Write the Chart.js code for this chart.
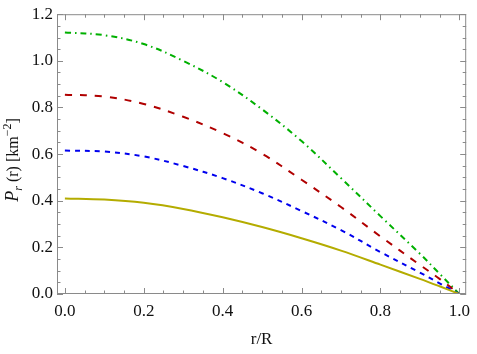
<!DOCTYPE html>
<html>
<head>
<meta charset="utf-8">
<script src="https://cdn.jsdelivr.net/npm/chart.js@4.4.1/dist/chart.umd.min.js"></script>
<style>
  html, body { margin: 0; padding: 0; background: #fff; }
  #wrap { width: 477px; height: 354px; }
</style>
</head>
<body>
<div id="wrap"><canvas id="grafica" width="477" height="354"></canvas></div>
<script>
const rVals = [0, 0.1, 0.2, 0.3, 0.4, 0.5, 0.6, 0.7, 0.8, 0.9, 0.95, 1.0];
const verde = [1.122, 1.110, 1.072, 1.000, 0.909, 0.792, 0.656, 0.497, 0.334, 0.173, 0.087, 0];
const rojo = [0.855, 0.847, 0.815, 0.760, 0.690, 0.602, 0.490, 0.373, 0.247, 0.125, 0.065, 0];
const azul = [0.615, 0.611, 0.590, 0.549, 0.497, 0.432, 0.356, 0.274, 0.180, 0.092, 0.046, 0];
const amarillo = [0.410, 0.405, 0.391, 0.365, 0.329, 0.287, 0.239, 0.186, 0.126, 0.065, 0.033, 0];

const xTicks = [0, 0.2, 0.4, 0.6, 0.8, 1.0];
const yTicks = [0, 0.2, 0.4, 0.6, 0.8, 1.0, 1.2];

const FUENTE = "'Liberation Serif', 'Times New Roman', serif";

function serie(vals, color, dash) {
  return {
    data: vals.map((v, i) => ({ x: rVals[i], y: v })),
    borderColor: color,
    borderWidth: 2,
    borderDash: dash,
    pointRadius: 0,
    fill: false,
    tension: 0.35
  };
}

// frame with inward ticks on all four sides, and the y title
const marco = {
  id: "marco",
  afterDraw(chart) {
    const ctx = chart.ctx;
    const a = chart.chartArea;
    const sx = chart.scales.x;
    const sy = chart.scales.y;
    ctx.save();
    ctx.strokeStyle = "#8a8a8a";
    ctx.lineWidth = 1;
    ctx.strokeRect(a.left + 0.5, a.top + 0.5, a.right - a.left - 1, a.bottom - a.top - 1);

    ctx.beginPath();
    for (let k = 0; k <= 20; k++) {
      const v = k * 0.05;
      const len = k % 4 === 0 ? 6 : 3.5;
      const px = Math.round(sx.getPixelForValue(v)) + 0.5;
      ctx.moveTo(px, a.bottom); ctx.lineTo(px, a.bottom - len);
      ctx.moveTo(px, a.top); ctx.lineTo(px, a.top + len);
    }
    for (let k = 0; k <= 24; k++) {
      const v = k * 0.05;
      const len = k % 4 === 0 ? 6 : 3.5;
      const py = Math.round(sy.getPixelForValue(v)) + 0.5;
      ctx.moveTo(a.left, py); ctx.lineTo(a.left + len, py);
      ctx.moveTo(a.right, py); ctx.lineTo(a.right - len, py);
    }
    ctx.stroke();

    // y title: P_r (r) [km^-2]
    const partes = [
      { t: "P", f: "italic 18px " + FUENTE, dy: 0 },
      { t: "r", f: "italic 12px " + FUENTE, dy: 4 },
      { t: " (r) [km", f: "16px " + FUENTE, dy: 0 },
      { t: "\u22122", f: "12px " + FUENTE, dy: -7 },
      { t: "]", f: "16px " + FUENTE, dy: 0 }
    ];
    let total = 0;
    partes.forEach(p => { ctx.font = p.f; p.w = ctx.measureText(p.t).width; total += p.w; });
    ctx.translate(18, 160);
    ctx.rotate(-Math.PI / 2);
    ctx.fillStyle = "#111";
    ctx.textBaseline = "alphabetic";
    let x = -total / 2;
    partes.forEach(p => {
      ctx.font = p.f;
      ctx.fillText(p.t, x, p.dy);
      x += p.w;
    });
    ctx.restore();
  }
};

new Chart(document.getElementById("grafica"), {
  type: "line",
  data: {
    datasets: [
      serie(amarillo, "#b4ac00", []),
      serie(azul, "#0000ee", [5, 5]),
      serie(rojo, "#b00000", [7, 8]),
      serie(verde, "#00b000", [6, 4, 1.5, 4])
    ]
  },
  options: {
    responsive: false,
    animation: false,
    devicePixelRatio: 1,
    layout: { padding: { left: 0, right: 5, top: 11, bottom: 0 } },
    plugins: { legend: { display: false }, tooltip: { enabled: false } },
    scales: {
      x: {
        type: "linear",
        min: -0.02,
        max: 1.0175,
        afterBuildTicks: s => { s.ticks = xTicks.map(v => ({ value: v })); },
        afterFit: s => { s.height = 60; },
        grid: { display: false, drawTicks: false },
        border: { display: false },
        ticks: {
          padding: 7,
          color: "#111",
          font: { family: FUENTE, size: 17 },
          callback: v => v.toFixed(1)
        },
        title: {
          display: true,
          text: "r/R",
          color: "#111",
          font: { family: FUENTE, size: 17 },
          padding: { top: 10 }
        }
      },
      y: {
        min: 0,
        max: 1.2,
        afterBuildTicks: s => { s.ticks = yTicks.map(v => ({ value: v })); },
        afterFit: s => { s.width = 57; },
        grid: { display: false, drawTicks: false },
        border: { display: false },
        ticks: {
          padding: 4,
          color: "#111",
          font: { family: FUENTE, size: 17 },
          callback: v => v.toFixed(1)
        }
      }
    }
  },
  plugins: [marco]
});
</script>
</body>
</html>
